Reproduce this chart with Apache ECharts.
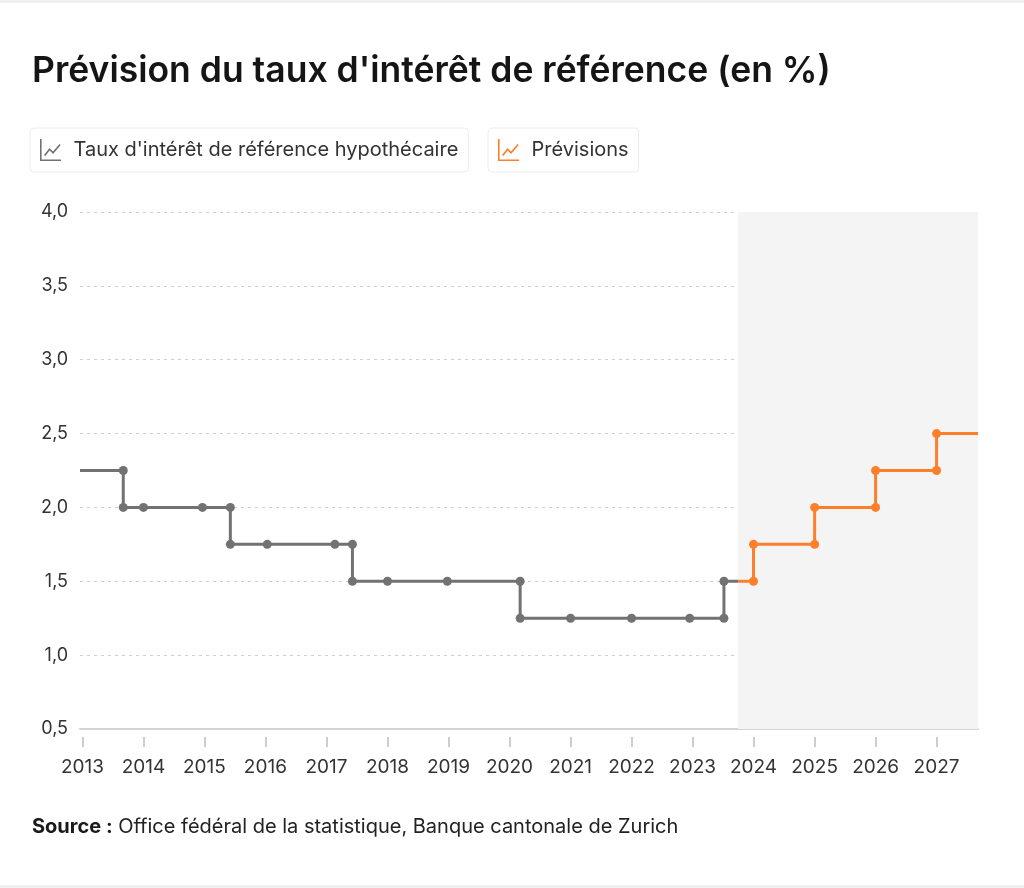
<!DOCTYPE html>
<html>
<head>
<meta charset="utf-8">
<script src="https://cdn.jsdelivr.net/npm/echarts@6/dist/echarts.min.js"></script>
<style>
html,body{margin:0;padding:0;background:#fff;}
#chart{width:1024px;height:888px;}
</style>
</head>
<body>
<div id="chart"></div>
<script>
// ---- Data ----
const titleText = "Prévision du taux d'intérêt de référence (en %)";
const seriesNames = ["Taux d'intérêt de référence hypothécaire", "Prévisions"];
// historical reference rate (step corners), dates and values
const histDates = ['2012-12-17','2013-09-02','2013-09-02','2014-01-01','2014-12-20','2015-06-05','2015-06-05','2016-01-12','2017-02-20','2017-06-05','2017-06-05','2018-01-01','2018-12-25','2020-03-05','2020-03-05','2021-01-01','2022-01-01','2022-12-15','2023-07-08','2023-07-08','2023-10-01'];
const histValues = [2.25,2.25,2.0,2.0,2.0,2.0,1.75,1.75,1.75,1.75,1.5,1.5,1.5,1.5,1.25,1.25,1.25,1.25,1.25,1.5,1.5];
// forecast
const fcDates = ['2023-10-01','2024-01-01','2024-01-01','2025-01-01','2025-01-01','2026-01-01','2026-01-01','2027-01-01','2027-01-01','2027-09-06'];
const fcValues = [1.5,1.5,1.75,1.75,2.0,2.0,2.25,2.25,2.5,2.5];
const forecastStart = '2023-10-01';
const axisMin = '2012-12-17';
const axisMax = '2027-09-06';
const yTicks = [0.5, 4.0, 0.5]; // min, max, interval
const sourceLabel = 'Source :';
const sourceText = ' Office fédéral de la statistique, Banque cantonale de Zurich';

const GRAY = '#727272';
const ORANGE = '#fd7f2c';
const FONT = 'Inter, "Noto Sans", sans-serif';

function buildData(dates, values) {
  return dates.map((d, i) => {
    const item = { value: [d, values[i]] };
    if (i === 0 || i === dates.length - 1) item.symbol = 'none';
    return item;
  });
}

const iconPath = 'path://M1,0 L2.6,0 L2.6,20.4 L22,20.4 L22,22 L1,22 Z M5,16 L10.5,9 L14,12.5 L20.5,5 L21.7,6.1 L14.1,15.1 L10.6,11.6 L6.4,17 Z';

const chart = echarts.init(document.getElementById('chart'), null, { renderer: 'canvas' });
const legendCommon = {
  top: 128,
  height: 23,
  padding: [11, 10, 11, 10],
  borderColor: '#ececec',
  borderWidth: 1,
  borderRadius: 4,
  itemWidth: 22,
  itemHeight: 22,
  itemGap: 10,
  textStyle: { fontFamily: FONT, fontSize: 20, color: '#333', padding: [0, 0, 0, 7] },
  selectedMode: false
};
chart.setOption({
  animation: false,
  textStyle: { fontFamily: FONT },
  title: {
    text: titleText,
    left: 27,
    top: 48,
    textStyle: { fontFamily: FONT, fontSize: 35.5, fontWeight: 600, color: '#151515' }
  },
  legend: [
    Object.assign({}, legendCommon, {
      left: 30,
      data: [{ name: seriesNames[0], icon: iconPath, itemStyle: { color: GRAY, borderWidth: 0 } }]
    }),
    Object.assign({}, legendCommon, {
      left: 488,
      data: [{ name: seriesNames[1], icon: iconPath, itemStyle: { color: ORANGE, borderWidth: 0 } }]
    })
  ],
  grid: { left: 80, right: 46, top: 212, bottom: 159, containLabel: false },
  xAxis: [
    {
      type: 'time',
      min: axisMin,
      max: axisMax,
      axisLine: { show: true, lineStyle: { color: '#d4d4d4', width: 2 } },
      axisTick: { show: false },
      axisLabel: { show: false },
      splitLine: { show: false }
    },
    {
      type: 'time',
      min: axisMin,
      max: axisMax,
      position: 'bottom',
      offset: 8,
      minInterval: 365.25 * 24 * 3600 * 1000,
      maxInterval: 366 * 24 * 3600 * 1000,
      axisLine: { show: false },
      axisTick: { show: true, length: 10, lineStyle: { color: '#cdcdcd', width: 2 } },
      axisLabel: {
        formatter: '{yyyy}',
        fontFamily: FONT,
        fontSize: 19,
        color: '#333',
        margin: 21,
        showMinLabel: false,
        showMaxLabel: false
      },
      splitLine: { show: false }
    }
  ],
  yAxis: {
    type: 'value',
    min: yTicks[0],
    max: yTicks[1],
    interval: yTicks[2],
    axisLine: { show: false },
    axisTick: { show: false },
    axisLabel: {
      fontFamily: FONT,
      fontSize: 18,
      color: '#333',
      margin: 12,
      formatter: v => v.toFixed(1).replace('.', ',')
    },
    splitLine: { show: true, lineStyle: { color: '#cfcfcf', type: [3, 4], width: 1 } }
  },
  series: [
    {
      name: seriesNames[0],
      type: 'line',
      xAxisIndex: 0,
      data: buildData(histDates, histValues),
      symbol: 'circle',
      symbolSize: 9,
      showAllSymbol: true,
      lineStyle: { color: GRAY, width: 3 },
      itemStyle: { color: GRAY },
      z: 3,
      markArea: {
        silent: true,
        itemStyle: { color: '#f4f4f4' },
        data: [[{ xAxis: forecastStart }, { xAxis: axisMax }]]
      }
    },
    {
      name: seriesNames[1],
      type: 'line',
      xAxisIndex: 0,
      data: buildData(fcDates, fcValues),
      symbol: 'circle',
      symbolSize: 9,
      showAllSymbol: true,
      lineStyle: { color: ORANGE, width: 3 },
      itemStyle: { color: ORANGE },
      z: 4
    }
  ],
  graphic: [
    { type: 'rect', shape: { x: 0, y: 0, width: 1024, height: 3 }, style: { fill: '#efefef' } },
    { type: 'rect', shape: { x: 0, y: 885, width: 1024, height: 3 }, style: { fill: '#efefef' } },
    {
      type: 'text',
      left: 32,
      top: 817,
      style: {
        text: '{b|' + sourceLabel + '}{r|' + sourceText + '}',
        rich: {
          b: { fontFamily: FONT, fontSize: 20, fontWeight: 700, fill: '#1a1a1a' },
          r: { fontFamily: FONT, fontSize: 20, fill: '#222' }
        }
      }
    }
  ]
});
</script>
</body>
</html>
